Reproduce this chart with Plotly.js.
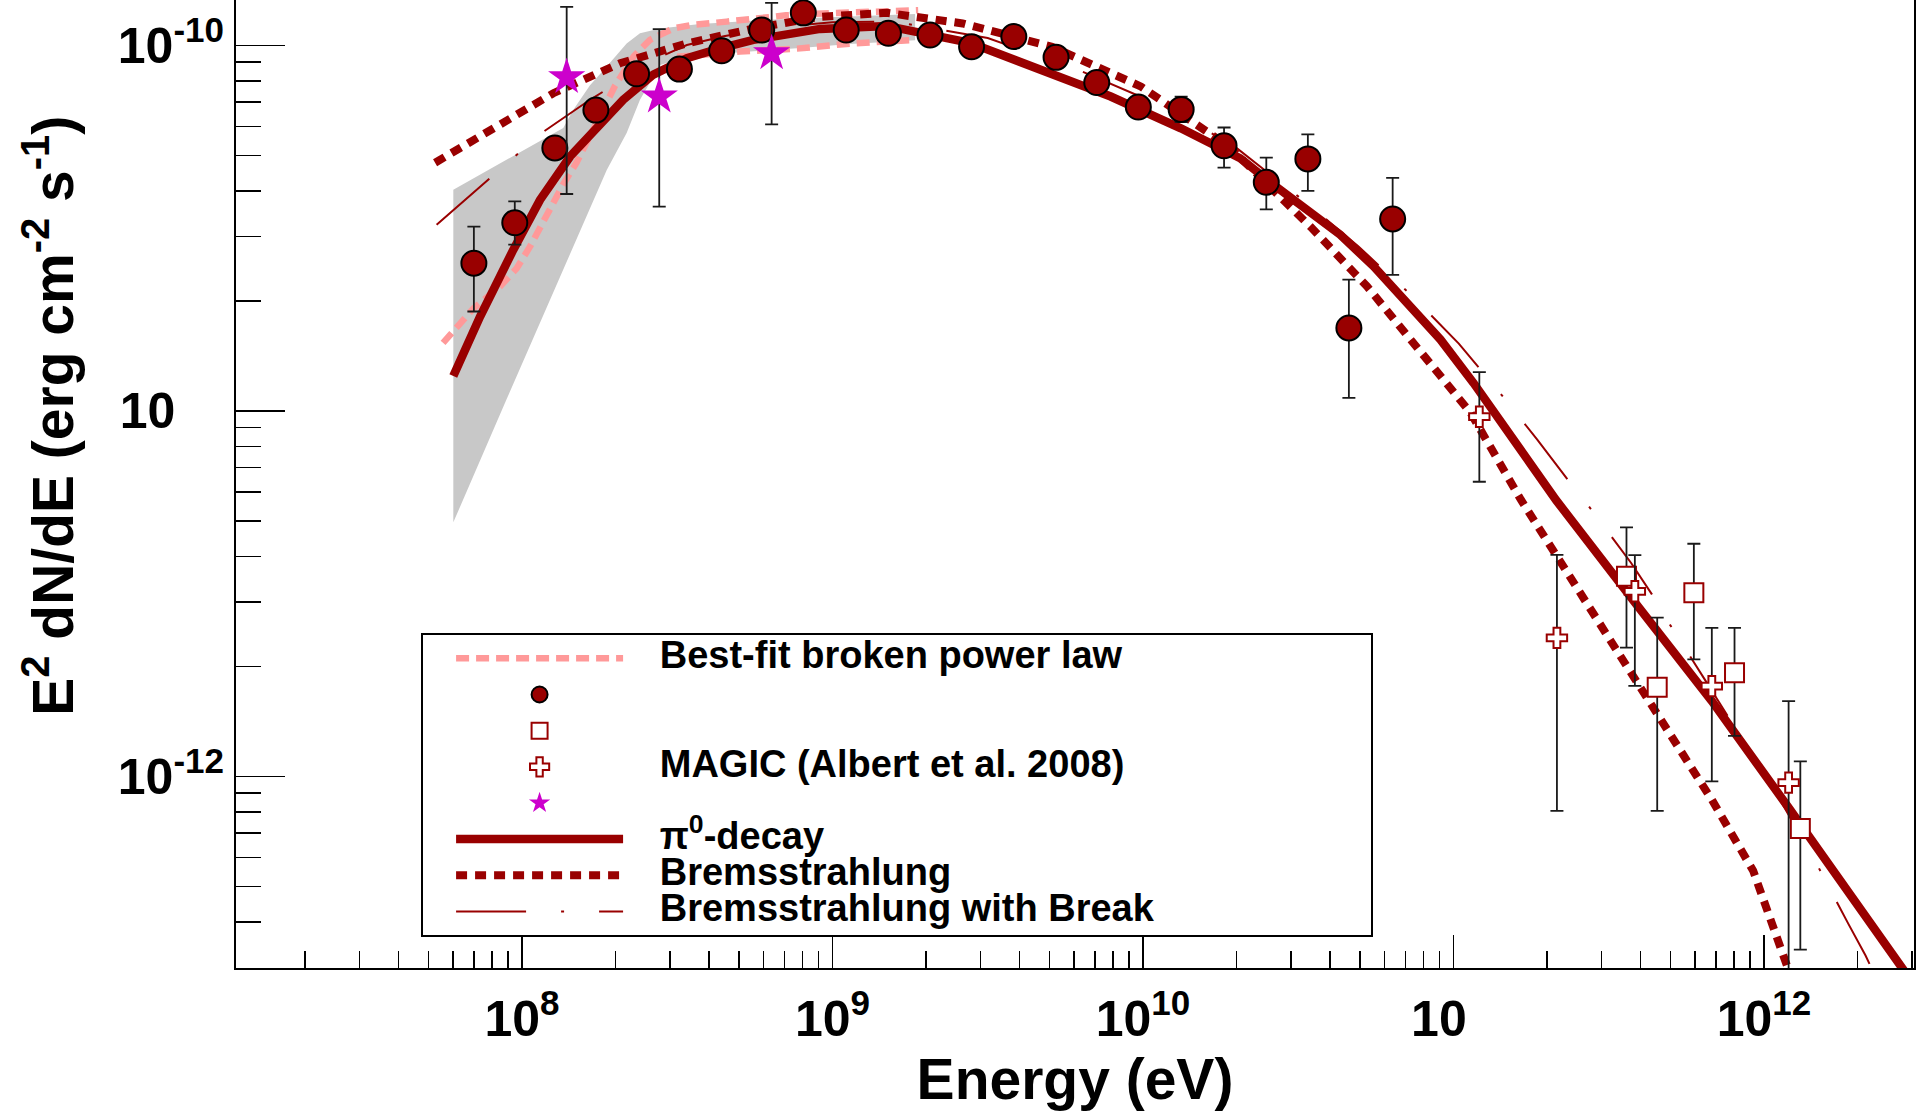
<!DOCTYPE html>
<html>
<head>
<meta charset="utf-8">
<script src="https://cdn.plot.ly/plotly-3.0.1.min.js"></script>
<style>html,body{margin:0;padding:0;background:#fff;}#chart{width:1917px;height:1115px;}</style>
</head>
<body>
<div id="chart"></div>
<script>
// ---------- Fermi-LAT points ----------
var fermiE  = [7.00e7, 9.48e7, 1.276e8, 1.730e8, 2.339e8, 3.214e8, 4.395e8, 5.916e8, 8.054e8, 1.107e9, 1.514e9, 2.061e9, 2.805e9, 3.837e9, 5.248e9, 7.096e9, 9.66e9, 1.327e10, 1.824e10, 2.495e10, 3.396e10, 4.603e10, 6.368e10];
var fermiF  = [2.535e-11, 3.27e-11, 5.24e-11, 6.65e-11, 8.36e-11, 8.61e-11, 9.66e-11, 1.101e-10, 1.227e-10, 1.101e-10, 1.079e-10, 1.067e-10, 9.91e-11, 1.057e-10, 9.27e-11, 7.91e-11, 6.78e-11, 6.68e-11, 5.31e-11, 4.22e-11, 4.89e-11, 1.686e-11, 3.35e-11];
var fermiHi = [3.19e-11, 3.74e-11, 5.5e-11, 6.9e-11, 8.6e-11, 8.9e-11, 9.95e-11, 1.13e-10, 1.26e-10, 1.13e-10, 1.11e-10, 1.10e-10, 1.02e-10, 1.09e-10, 9.6e-11, 8.25e-11, 7.15e-11, 7.24e-11, 5.96e-11, 4.93e-11, 5.71e-11, 2.286e-11, 4.34e-11];
var fermiLo = [1.87e-11, 2.85e-11, 5.0e-11, 6.4e-11, 8.1e-11, 8.35e-11, 9.4e-11, 1.07e-10, 1.19e-10, 1.07e-10, 1.05e-10, 1.035e-10, 9.6e-11, 1.025e-10, 8.95e-11, 7.6e-11, 6.45e-11, 6.17e-11, 4.63e-11, 3.56e-11, 4.00e-11, 1.086e-11, 2.355e-11];

// ---------- MAGIC squares ----------
var sqE  = [3.606e11, 4.529e11, 5.943e11, 8.035e11, 1.309e12];
var sqF  = [3.53e-12, 1.754e-12, 3.18e-12, 1.923e-12, 7.21e-13];
var sqHi = [4.80e-12, 2.72e-12, 4.33e-12, 2.55e-12, 1.099e-12];
var sqLo = [2.25e-12, 8.05e-13, 2.09e-12, 1.291e-12, 3.36e-13];

// ---------- MAGIC crosses ----------
var crE  = [1.211e11, 2.153e11, 3.837e11, 6.79e11, 1.2e12];
var crF  = [9.64e-12, 2.393e-12, 3.21e-12, 1.766e-12, 9.62e-13];
var crHi = [1.276e-11, 4.04e-12, 4.03e-12, 2.55e-12, 1.607e-12];
var crLo = [6.40e-12, 8.05e-13, 1.77e-12, 9.70e-13, 2.0e-13];

// ---------- stars ----------
var stE  = [1.393e8, 2.767e8, 6.368e8];
var stF  = [8.18e-11, 7.24e-11, 9.51e-11];
var stHi = [1.274e-10, 1.107e-10, 1.306e-10];
var stLo = [3.92e-11, 3.62e-11, 6.08e-11];

// ---------- pi0-decay model ----------
var pionE = [6.01e7, 7.33e7, 9.38e7, 1.143e8, 1.429e8, 1.742e8, 2.118e8, 2.649e8, 3.396e8, 4.345e8, 5.559e8, 9.12e8, 1.496e9, 2.773e9, 4.677e9, 7.870e9, 1.324e10, 2.056e10, 2.636e10, 3.373e10, 4.315e10, 5.534e10, 7.079e10, 9.078e10, 1.161e11, 1.486e11, 2.143e11, 3.837e11, 6.792e11, 1.199e12, 1.914e12, 2.761e12, 3.162e12];
var pionF = [1.245e-11, 1.811e-11, 2.761e-11, 3.776e-11, 4.966e-11, 5.998e-11, 7.096e-11, 8.318e-11, 9.226e-11, 9.817e-11, 1.035e-10, 1.109e-10, 1.130e-10, 1.016e-10, 8.610e-11, 7.244e-11, 5.929e-11, 4.909e-11, 4.150e-11, 3.548e-11, 3.034e-11, 2.483e-11, 1.972e-11, 1.567e-11, 1.191e-11, 8.892e-12, 5.689e-12, 2.992e-12, 1.607e-12, 8.222e-13, 4.753e-13, 3.041e-13, 2.57e-13];

// ---------- Bremsstrahlung model ----------
var bremE = [5.25e7, 7.69e7, 1.262e8, 2.070e8, 3.396e8, 5.559e8, 9.12e8, 1.496e9, 2.624e9, 5.093e9, 9.863e9, 1.910e10, 3.459e10, 5.260e10, 7.727e10, 1.135e11, 1.648e11, 2.143e11, 2.951e11, 3.837e11, 5.297e11, 6.792e11, 9.226e11, 1.199e12, 1.259e12];
var bremF = [4.775e-11, 5.808e-11, 7.396e-11, 8.933e-11, 1.012e-10, 1.112e-10, 1.197e-10, 1.227e-10, 1.148e-10, 9.908e-11, 7.709e-11, 5.248e-11, 3.192e-11, 2.193e-11, 1.486e-11, 9.886e-12, 5.715e-12, 4.036e-12, 2.642e-12, 1.866e-12, 1.194e-12, 8.630e-13, 5.521e-13, 3.041e-13, 2.63e-13];

// ---------- Bremsstrahlung with break ----------
var brkE = [5.31e7, 7.69e7, 9.42e7, 1.156e8, 1.656e8, 2.716e8, 3.396e8, 4.467e8, 6.310e8, 1.0e9, 1.585e9, 3.162e9, 6.310e9, 1.259e10, 1.995e10, 3.373e10, 4.943e10, 6.039e10, 7.345e10, 1.040e11, 1.469e11, 1.858e11, 2.360e11, 2.780e11, 3.733e11, 4.355e11, 4.989e11, 6.501e11, 7.516e11, 8.710e11, 9.931e11, 1.483e12, 1.871e12, 2.123e12, 2.512e12];
var brkF = [3.228e-11, 4.266e-11, 4.943e-11, 5.754e-11, 7.096e-11, 9.204e-11, 1.002e-10, 1.059e-10, 1.117e-10, 1.156e-10, 1.161e-10, 1.047e-10, 8.511e-11, 6.607e-11, 5.248e-11, 3.698e-11, 2.818e-11, 2.404e-11, 2.065e-11, 1.528e-11, 1.074e-11, 8.356e-12, 6.397e-12, 5.370e-12, 3.837e-12, 3.148e-12, 2.594e-12, 1.820e-12, 1.493e-12, 1.225e-12, 1.040e-12, 5.728e-13, 3.945e-13, 3.236e-13, 2.399e-13];

// ---------- Best-fit broken power law ----------
var bplE = [5.57e7, 6.97e7, 8.49e7, 9.62e7, 1.062e8, 1.202e8, 1.358e8, 1.500e8, 1.656e8, 1.995e8, 2.291e8, 2.582e8, 3.069e8, 3.475e8, 4.560e8, 5.546e8, 7.079e8, 9.817e8, 1.888e9];
var bplF = [1.535e-11, 1.905e-11, 2.188e-11, 2.455e-11, 2.818e-11, 3.467e-11, 4.169e-11, 4.786e-11, 5.689e-11, 7.762e-11, 9.333e-11, 1.035e-10, 1.112e-10, 1.135e-10, 1.161e-10, 1.186e-10, 1.208e-10, 1.225e-10, 1.247e-10];
var bplLowE = [3.162e8, 3.741e8, 5.035e8, 7.691e8, 1.109e9, 1.766e9];
var bplLowF = [9.30e-11, 9.441e-11, 9.616e-11, 9.795e-11, 1.009e-10, 1.033e-10];

// ---------- uncertainty band (grey) ----------
var bandUpE = [6.01e7, 1.358e8, 1.462e8, 1.656e8, 1.875e8, 2.173e8, 2.399e8, 2.786e8, 3.741e8, 5.848e8, 9.817e8, 1.845e9];
var bandUpF = [4.027e-11, 5.943e-11, 6.653e-11, 7.780e-11, 8.750e-11, 1.012e-10, 1.079e-10, 1.112e-10, 1.143e-10, 1.172e-10, 1.194e-10, 1.219e-10];
var bandLoE = [1.845e9, 1.140e9, 7.870e8, 5.035e8, 3.475e8, 2.786e8, 2.399e8, 2.173e8, 1.875e8, 8.913e7, 6.01e7];
var bandLoF = [1.033e-10, 1.009e-10, 9.840e-11, 9.594e-11, 9.354e-11, 8.831e-11, 7.096e-11, 5.754e-11, 4.560e-11, 1.074e-11, 4.955e-12];

// ---------- axes ticks ----------
var NB = '\u00a0';
var xTickVals = [1e8, 1e9, 1e10, 1e11, 1e12];
var xTickText = ['10<sup>8</sup>', '10<sup>9</sup>', '10<sup>10</sup>', '10<sup>' + NB + NB + NB + '</sup>', '10<sup>12</sup>'];
var yTickVals = [1e-12, 1e-11, 1e-10];
var yTickText = ['10<sup>-12</sup>', '10<sup>' + NB + NB + NB + NB + NB + '</sup>', '10<sup>-10</sup>'];

function minorVals(e0, e1) {
  var v = [];
  for (var e = e0; e <= e1; e++) { for (var d = 2; d <= 9; d++) { v.push(d * Math.pow(10, e)); } }
  return v;
}

var FONT = 'Liberation Sans, Arial, Helvetica, sans-serif';
var RED = '#990000';
var PINK = '#ff9999';
var MAG = '#cc00cc';
function lg(t) { return "<span style='font-size:38px'>" + NB + NB + NB + t + '</span>'; }
function errs(hi, lo, f) {
  return {type: 'data', symmetric: false,
          array: hi.map(function (h, i) { return h - f[i]; }),
          arrayminus: lo.map(function (l, i) { return f[i] - l; }),
          color: '#1a1a1a', thickness: 1.8, width: 6.5};
}

var traces = [
  {x: bandUpE.concat(bandLoE), y: bandUpF.concat(bandLoF), type: 'scatter', mode: 'lines',
   fill: 'toself', fillcolor: '#c8c8c8', line: {width: 0, color: '#c8c8c8'}, showlegend: false, hoverinfo: 'skip'},
  {x: bplE, y: bplF, type: 'scatter', mode: 'lines', name: lg('Best-fit broken power law'), legendrank: 1,
   line: {color: PINK, width: 6.5, dash: '13px,7px'}},
  {x: bplLowE, y: bplLowF, type: 'scatter', mode: 'lines', showlegend: false,
   line: {color: PINK, width: 6.5, dash: '13px,7px'}},
  {x: brkE, y: brkF, type: 'scatter', mode: 'lines', name: lg('Bremsstrahlung with Break' + NB.repeat(20)), legendrank: 8,
   line: {color: RED, width: 2, dash: '70px,35px,3px,35px'}},
  {x: bremE, y: bremF, type: 'scatter', mode: 'lines', name: lg('Bremsstrahlung'), legendrank: 7,
   line: {color: RED, width: 8, dash: '11px,8px'}},
  {x: pionE, y: pionF, type: 'scatter', mode: 'lines', name: lg('&#960;<sup>0</sup>-decay'), legendrank: 6,
   line: {color: RED, width: 8.5}},
  {x: fermiE, y: fermiF, type: 'scatter', mode: 'markers', name: '', legendrank: 2,
   marker: {symbol: 'circle', size: 25, color: RED, line: {color: 'black', width: 2}},
   error_y: errs(fermiHi, fermiLo, fermiF)},
  {x: sqE, y: sqF, type: 'scatter', mode: 'markers', name: '', legendrank: 3,
   marker: {symbol: 'square', size: 19, color: 'white', line: {color: RED, width: 2}},
   error_y: errs(sqHi, sqLo, sqF)},
  {x: crE, y: crF, type: 'scatter', mode: 'markers', name: lg('MAGIC (Albert et al. 2008)'), legendrank: 4,
   marker: {symbol: 'cross', size: 17, color: 'white', line: {color: RED, width: 2}},
   error_y: errs(crHi, crLo, crF)},
  {x: stE, y: stF, type: 'scatter', mode: 'markers', name: '', legendrank: 5,
   marker: {symbol: 'star', size: 28, color: MAG, line: {width: 0}},
   error_y: errs(stHi, stLo, stF)}
];

var layout = {
  width: 1917, height: 1115,
  margin: {l: 236, r: 3, t: 0, b: 147, pad: 0},
  paper_bgcolor: 'white', plot_bgcolor: 'white',
  font: {family: FONT, color: 'black', weight: 'bold'},
  showlegend: true,
  xaxis: {
    type: 'log', range: [7.079, 12.483], autorange: false,
    showgrid: false, zeroline: false, showline: true, linecolor: 'black', linewidth: 2, mirror: false,
    ticks: 'inside', ticklen: 33, tickwidth: 1.5, tickcolor: 'black',
    tickmode: 'array', tickvals: xTickVals, ticktext: xTickText,
    tickfont: {size: 50, family: FONT, color: 'black', weight: 'bold'},
    ticklabelstandoff: 6,
    minor: {tickmode: 'array', tickvals: minorVals(7, 12), ticks: 'inside', ticklen: 17, tickwidth: 1.5, tickcolor: 'black', showgrid: false},
    title: {text: 'Energy (eV)', font: {size: 57, family: FONT, color: 'black', weight: 'bold'}, standoff: 12}
  },
  yaxis: {
    type: 'log', range: [-12.524, -9.876], autorange: false,
    showgrid: false, zeroline: false, showline: true, linecolor: 'black', linewidth: 2, mirror: true,
    ticks: 'inside', ticklen: 49, tickwidth: 1.5, tickcolor: 'black',
    tickmode: 'array', tickvals: yTickVals, ticktext: yTickText,
    tickfont: {size: 50, family: FONT, color: 'black', weight: 'bold'},
    minor: {tickmode: 'array', tickvals: minorVals(-13, -11), ticks: 'inside', ticklen: 25, tickwidth: 1.5, tickcolor: 'black', showgrid: false}
  },
  legend: {
    x: 0.1100, y: 0.3458, xanchor: 'left', yanchor: 'top',
    bgcolor: 'white', bordercolor: 'black', borderwidth: 2,
    font: {size: 25.5, family: FONT, color: 'black', weight: 'bold'},
    itemwidth: 167, indentation: 28.5, tracegroupgap: 0, traceorder: 'normal'
  },
  annotations: [{
    xref: 'paper', yref: 'paper', x: -0.1114, y: 0.5706, xanchor: 'center', yanchor: 'middle',
    text: 'E<sup>2</sup> dN/dE (erg cm<sup>-2</sup> s<sup>-1</sup>)', textangle: -90, showarrow: false,
    font: {size: 57, family: FONT, color: 'black', weight: 'bold'}
  }]
};

Plotly.newPlot('chart', traces, layout, {displayModeBar: false, staticPlot: true});
</script>
</body>
</html>
